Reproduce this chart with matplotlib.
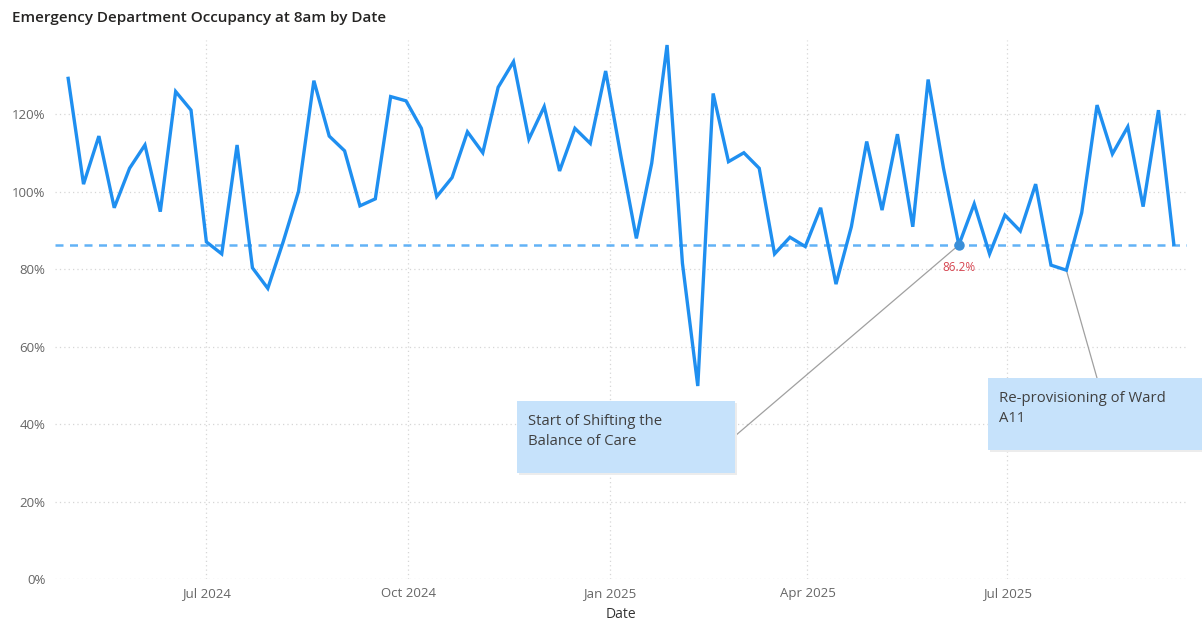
import matplotlib
matplotlib.use("Agg")
import matplotlib.pyplot as plt
import matplotlib.dates as mdates
from matplotlib.patches import Rectangle
from matplotlib.ticker import FuncFormatter
import numpy as np
import pandas as pd

plt.rcParams['font.family'] = ['Open Sans', 'DejaVu Sans']

# Weekly ED occupancy at 8am (%), week commencing Mondays
start_date = "2024-04-29"
occupancy = [
    129.2, 101.9, 114.3, 95.8, 106.0, 112.0, 94.8, 125.8, 121.0, 87.0,
    83.9, 112.0, 80.3, 75.0, 87.0, 100.0, 128.6, 114.3, 110.5, 96.3,
    98.1, 124.5, 123.4, 116.3, 98.7, 103.6, 115.4, 110.0, 126.9, 133.5,
    113.5, 121.9, 105.3, 116.3, 112.4, 131.1, 109.0, 87.9, 107.3, 137.8,
    81.5, 49.8, 125.3, 107.7, 110.0, 106.0, 83.9, 88.2, 85.8, 95.8,
    76.1, 90.9, 112.9, 95.2, 114.8, 90.9, 128.9, 106.0, 86.2, 96.8,
    83.9, 93.9, 89.8, 101.9, 81.0, 79.7, 94.5, 122.3, 109.7, 116.7,
    96.1, 121.0, 86.4,
]
dates = pd.date_range(start_date, periods=len(occupancy), freq="7D")

reference_level = 86.2
highlight_date = "2025-06-09"
highlight_value = 86.2

notes = ["Start of Shifting the\nBalance of Care", "Re-provisioning of Ward\nA11"]
note_dates = ["2025-06-09", "2025-07-28"]
note_values = [86.2, 79.7]

y_ticks = [0, 20, 40, 60, 80, 100, 120]
x_ticks = ["2024-07-01", "2024-10-01", "2025-01-01", "2025-04-01", "2025-07-01"]

W, H = 1202, 625
fig = plt.figure(figsize=(W / 100, H / 100), dpi=100)
fig.patch.set_facecolor("white")


def fx(px):
    return px / W


def fy(py):
    return 1 - py / H


ax = fig.add_axes([fx(55), fy(579), fx(1187) - fx(55), fy(40) - fy(579)])
ax.set_facecolor("white")

line_color = "#1f8ff0"
ax.plot(dates, occupancy, color=line_color, lw=2.4, solid_joinstyle="miter",
        zorder=4)
ax.axhline(reference_level, color="#62b2f6", lw=1.8, ls=(0, (3.2, 2.6)),
           zorder=3)

hd = pd.Timestamp(highlight_date)
ax.plot([hd], [highlight_value], "o", ms=6.5, color="#3a8fd8",
        markeredgecolor="#3a8fd8", zorder=5)
ax.annotate(f"{highlight_value:.1f}%", xy=(hd, highlight_value),
            xytext=(0, -16), textcoords="offset points", ha="center",
            va="center", fontsize=8.5, color="#d64550", zorder=6)

ax.set_xlim(dates[0] - pd.Timedelta(days=6), dates[-1] + pd.Timedelta(days=6))
ax.set_ylim(0, 139.1)

ax.set_yticks(y_ticks)
ax.yaxis.set_major_formatter(FuncFormatter(lambda v, p: f"{v:.0f}%"))
ax.set_xticks([pd.Timestamp(d) for d in x_ticks])
ax.xaxis.set_major_formatter(mdates.DateFormatter("%b %Y"))

ax.tick_params(axis="both", length=0, labelsize=9.5, colors="#666666")
ax.tick_params(axis="y", pad=7)
ax.tick_params(axis="x", pad=6)
for s in ax.spines.values():
    s.set_visible(False)
ax.grid(True, color="#d6d6d6", lw=0.9, ls=(0, (1, 2.5)))
ax.set_axisbelow(True)

ax.set_xlabel("Date", fontsize=10, color="#333333", labelpad=5)

fig.text(fx(12), fy(18), "Emergency Department Occupancy at 8am by Date",
         fontsize=11, color="#252423", fontweight="semibold",
         ha="left", va="center")

# Annotation boxes with connectors to the relevant weeks
boxes = [(517, 401, 735, 473), (988, 378, 1203, 450)]
anchors = [(735, 436), (1097, 378)]
box_color = "#c6e2fb"
for text, d, v, (x0, y0, x1, y1), (axp, ayp) in zip(notes, note_dates,
                                                     note_values, boxes,
                                                     anchors):
    ax.annotate("", xy=(pd.Timestamp(d), v), xycoords="data",
                xytext=(fx(axp), fy(ayp)), textcoords="figure fraction",
                arrowprops=dict(arrowstyle="-", color="#a0a0a0", lw=0.9,
                                shrinkA=0, shrinkB=0), zorder=2)
    shadow = Rectangle((fx(x0 + 1.5), fy(y1 + 2)), fx(x1) - fx(x0),
                       fy(y0) - fy(y1), transform=fig.transFigure,
                       facecolor="#ececec", edgecolor="none", zorder=7)
    fig.patches.append(shadow)
    rect = Rectangle((fx(x0), fy(y1)), fx(x1) - fx(x0), fy(y0) - fy(y1),
                     transform=fig.transFigure, facecolor=box_color,
                     edgecolor="none", zorder=8)
    fig.patches.append(rect)
    fig.text(fx(x0 + 11), fy(y0 + 13), text, fontsize=10.7, color="#404040",
             ha="left", va="top", linespacing=1.45, zorder=9)

fig.savefig("out.png", dpi=100, facecolor="white")
